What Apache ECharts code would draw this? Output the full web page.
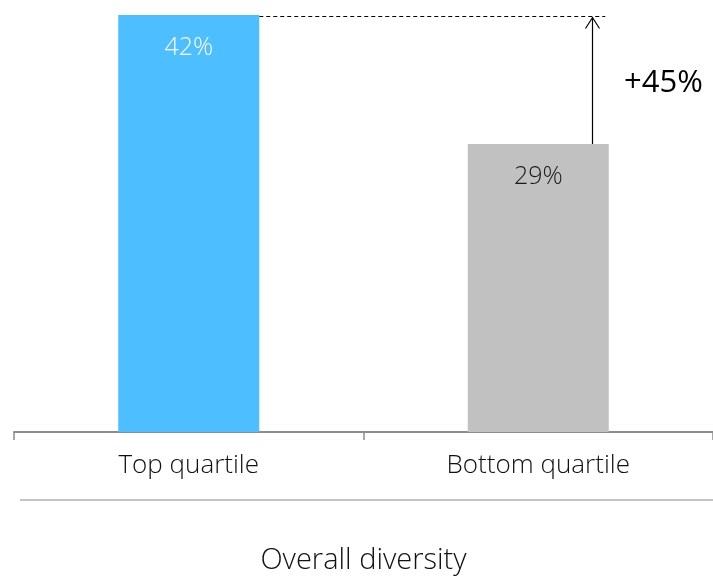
<!DOCTYPE html>
<html><head><meta charset="utf-8">
<script src="https://cdn.jsdelivr.net/npm/echarts@6/dist/echarts.min.js"></script>
<style>html,body{margin:0;padding:0;background:#fff}#c{width:713px;height:579px}</style>
</head><body><div id="c"></div>
<script>
const categories = ['Top quartile', 'Bottom quartile'];
const values = [42, 29];
const barColors = ['#4DBEFF', '#C1C1C1'];
const labelColors = ['#ffffff', '#1a1a1a'];
const deltaText = '+45%';
const axisTitle = 'Overall diversity';

const FONT = '"Open Sans", Lato, sans-serif';
const chart = echarts.init(document.getElementById('c'), null, {renderer: 'canvas'});
chart.setOption({
  animation: false,
  backgroundColor: '#fff',
  grid: {left: 14, width: 702, top: 15, bottom: 147},
  xAxis: {
    type: 'category', data: categories,
    axisLine: {lineStyle: {color: '#8c8c8c', width: 2}},
    axisTick: {show: true, length: 8, lineStyle: {color: '#8c8c8c', width: 1.5}},
    axisLabel: {color: '#111', fontFamily: FONT, fontWeight: 300, fontSize: 26, margin: 21}
  },
  yAxis: {type: 'value', min: 0, max: 42, show: false, splitLine: {show: false}},
  series: [{
    type: 'bar', barWidth: 141,
    data: values.map((v, i) => ({
      value: v,
      itemStyle: {color: barColors[i]},
      label: {color: labelColors[i]}
    })),
    label: {show: true, position: 'insideTop', distance: 20, fontFamily: FONT, fontWeight: 300, fontSize: 25,
      formatter: p => p.value + '%'}
  }]
});

const p0 = chart.convertToPixel({seriesIndex: 0}, [0, values[0]]);
const p1 = chart.convertToPixel({seriesIndex: 0}, [1, values[1]]);
const half = 141 / 2;
const arrowX = Math.round(p1[0] + 54) + 0.5;
const dashY = Math.round(p0[1]) + 1.5;
const midX = (p0[0] + p1[0]) / 2;
chart.setOption({
  graphic: [
    {type: 'line', shape: {x1: p0[0] + half, y1: dashY, x2: p1[0] + 67, y2: dashY},
      style: {stroke: '#000', lineWidth: 1, lineDash: [4, 3]}},
    {type: 'line', shape: {x1: arrowX, y1: p1[1], x2: arrowX, y2: dashY + 1},
      style: {stroke: '#000', lineWidth: 1.2}},
    {type: 'polyline', shape: {points: [[arrowX - 7, dashY + 12], [arrowX, dashY + 1], [arrowX + 7, dashY + 12]]},
      style: {stroke: '#000', lineWidth: 1.2, fill: null}},
    {type: 'text', left: 624, top: 68, style: {text: deltaText, fontFamily: FONT, fontSize: 31, fill: '#000'}},
    {type: 'line', shape: {x1: 20, y1: 500, x2: 713, y2: 500}, style: {stroke: '#c4c4c4', lineWidth: 2}},
    {type: 'text', x: midX, y: 546, style: {text: axisTitle, align: 'center', fontFamily: FONT, fontWeight: 300, fontSize: 29, fill: '#111'}}
  ]
});
</script></body></html>
